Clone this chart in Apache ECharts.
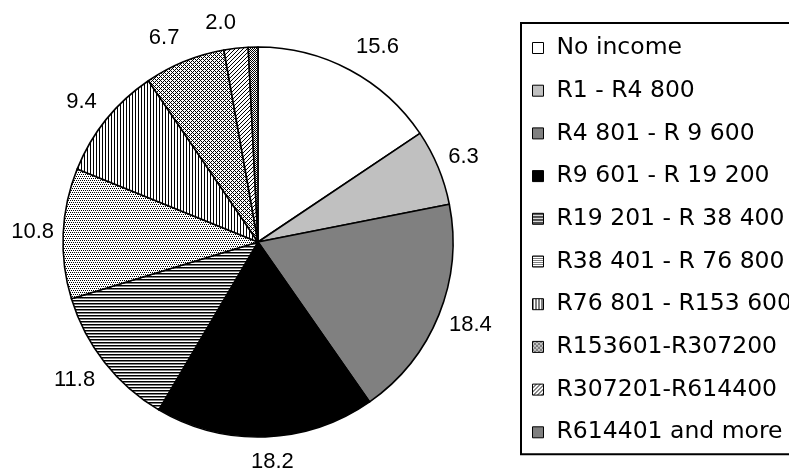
<!DOCTYPE html>
<html>
<head>
<meta charset="utf-8">
<script src="https://cdn.jsdelivr.net/npm/echarts@6/dist/echarts.min.js"></script>
<style>
  html, body { margin: 0; padding: 0; background: #fff; }
  #chart { width: 789px; height: 472px; }
</style>
</head>
<body>
<div id="chart"></div>
<script>
// income groups, clockwise from 12 o'clock
const categories = [
  "No income",
  "R1 - R4 800",
  "R4 801 - R 9 600",
  "R9 601 - R 19 200",
  "R19 201 - R 38 400",
  "R38 401 - R 76 800",
  "R76 801 - R153 600",
  "R153601-R307200",
  "R307201-R614400",
  "R614401 and more"
];
const shares = [15.6, 6.3, 18.4, 18.2, 11.8, 10.8, 9.4, 6.7, 2.0, 0.8];
const showLabel = [true, true, true, true, true, true, true, true, true, false];

// pie geometry (px)
const CX = 258, CY = 242, R = 195;

// small bitmap tiles for the hatched slices: 1 = black, 2 = grey, 0 = white
function tile(rows) {
  const c = document.createElement("canvas");
  c.width = rows[0].length;
  c.height = rows.length;
  const g = c.getContext("2d");
  g.fillStyle = "#fff";
  g.fillRect(0, 0, c.width, c.height);
  rows.forEach((r, y) => {
    for (let x = 0; x < r.length; x++) {
      if (r[x] === "0") continue;
      g.fillStyle = r[x] === "1" ? "#000" : "#808080";
      g.fillRect(x, y, 1, 1);
    }
  });
  return { image: c, repeat: "repeat" };
}

const fills = [
  "#ffffff",
  "#c0c0c0",
  "#808080",
  "#000000",
  tile(["1", "2", "0"]),                     // horizontal lines
  tile(["10", "00", "01", "00"]),            // fine dots
  tile(["100"]),                             // vertical lines
  tile(["1000", "0101", "0010", "0101"]),    // zigzag weave
  tile(["0001", "0010", "0100", "1000"]),    // diagonal /
  tile(["10", "01"])                         // dense dots
];

// mid angle of each slice (radians, clockwise from top) for label placement
const total = shares.reduce((a, b) => a + b, 0);
let acc = 0;
const midAngles = shares.map(v => {
  const m = (acc + v / 2) / total * Math.PI * 2;
  acc += v;
  return m;
});
const clamp = v => Math.max(-1, Math.min(1, v));

const chart = echarts.init(document.getElementById("chart"), null, { renderer: "canvas" });
chart.setOption({
  animation: false,
  backgroundColor: "#fff",
  legend: {
    orient: "vertical",
    left: 521,
    top: 23,
    padding: [13, 20, 10, 11],
    itemGap: 18.7,
    itemWidth: 11,
    itemHeight: 11,
    icon: "rect",
    borderColor: "#000",
    borderWidth: 2,
    itemStyle: { borderColor: "#000", borderWidth: 1 },
    textStyle: {
      fontFamily: "DejaVu Sans",
      fontSize: 23.5,
      color: "#000",
      padding: [0, 0, 0, 8]
    },
    data: categories
  },
  series: [{
    type: "pie",
    center: [CX, CY],
    radius: R,
    startAngle: 90,
    clockwise: true,
    avoidLabelOverlap: false,
    itemStyle: { borderColor: "#000", borderWidth: 1.6 },
    label: {
      show: true,
      position: "outside",
      fontFamily: "Liberation Sans",
      fontSize: 22,
      lineHeight: 17,
      color: "#000",
      formatter: p => p.value.toFixed(1)
    },
    labelLine: { show: false },
    labelLayout: p => {
      const a = midAngles[p.dataIndex];
      const ux = Math.sin(a), uy = -Math.cos(a);
      const d = R + 9 + 5 * Math.abs(uy);
      const hw = p.labelRect.width / 2, hh = p.labelRect.height / 2;
      return {
        x: CX + ux * d + clamp(ux * 8) * hw,
        y: CY + uy * d + clamp(uy * 1.5) * hh,
        align: "center",
        verticalAlign: "middle"
      };
    },
    emphasis: { disabled: true },
    data: categories.map((name, i) => ({
      name: name,
      value: shares[i],
      itemStyle: { color: fills[i] },
      label: { show: showLabel[i] }
    }))
  }]
});
</script>
</body>
</html>
